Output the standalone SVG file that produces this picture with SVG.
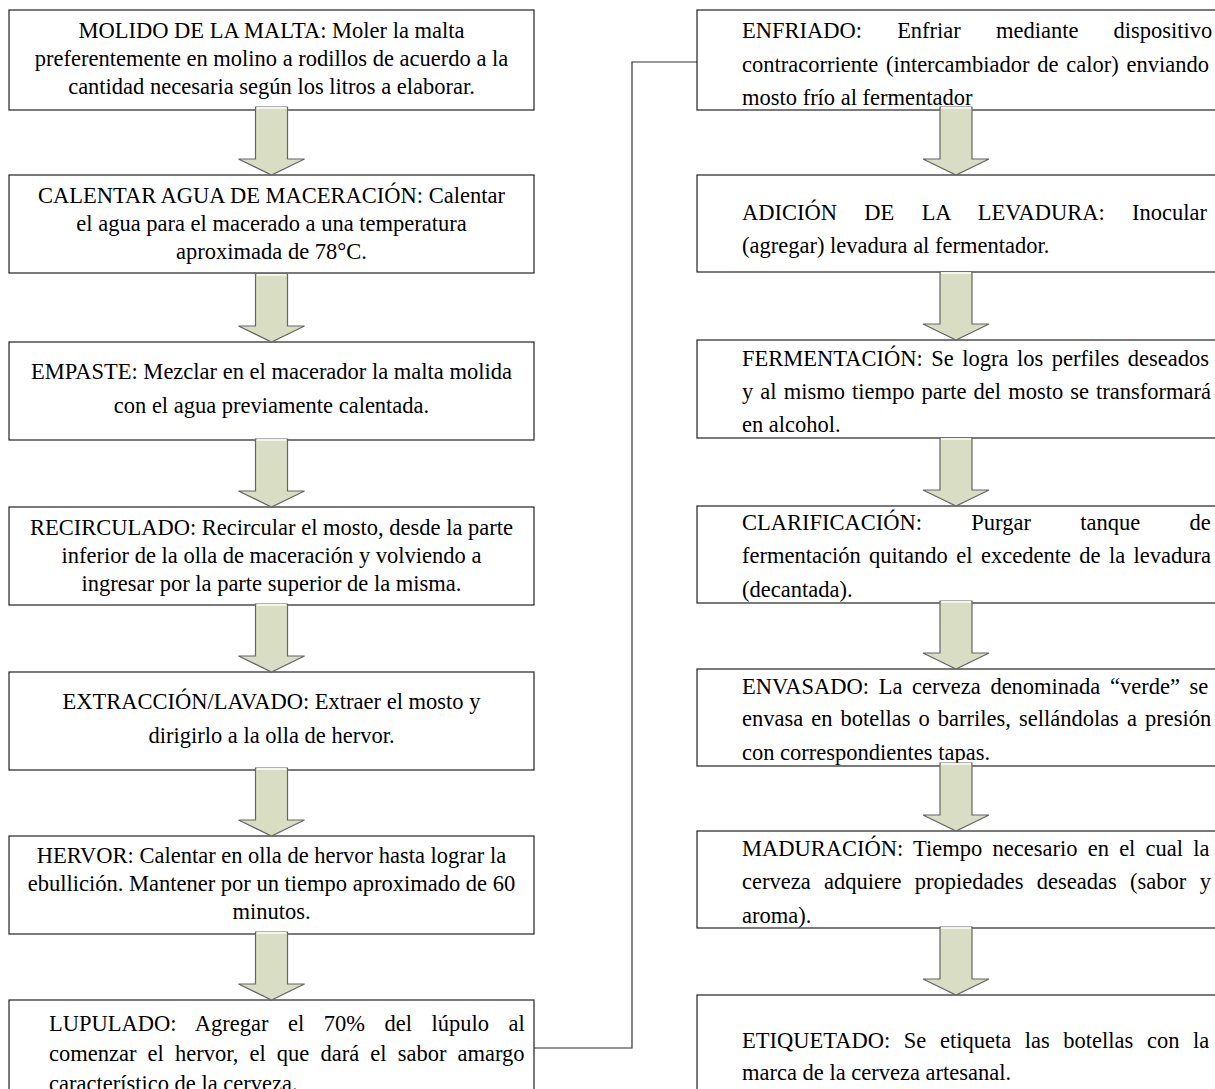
<svg xmlns="http://www.w3.org/2000/svg" width="1215" height="1089" viewBox="0 0 1215 1089">
<defs>
<style>
.box{fill:#fff;stroke:#222;stroke-width:1.2}
.t{font-family:"Liberation Serif","Times New Roman",serif;font-size:22.5px;fill:#000}
.c{text-anchor:middle}
.arr{fill:#d9ddc4;stroke:#666;stroke-width:1.2}
.hl{stroke:#f3f5e8;stroke-width:2}
.conn{fill:none;stroke:#333;stroke-width:1.2}
</style>
<g id="arrowShape">
<path class="arr" d="M-16,0 L16,0 L16,52 L33,52 L0,68 L-33,52 L-16,52 Z"/>
<line class="hl" x1="-15" y1="1" x2="15" y2="1"/>
</g>
</defs>
<rect width="1215" height="1089" fill="#fff"/>

<g id="connectors">
<polyline class="conn" points="534,1048 632,1048 632,62 697,62"/>
</g>

<g id="molido">
<rect class="box" x="9" y="10" width="525" height="100"/>
<text class="t c" x="271.5" y="38">MOLIDO DE LA MALTA: Moler la malta</text>
<text class="t c" x="271.5" y="66">preferentemente en molino a rodillos de acuerdo a la</text>
<text class="t c" x="271.5" y="94">cantidad necesaria según los litros a elaborar.</text>
</g>
<g id="calentar">
<rect class="box" x="9" y="175" width="525" height="98"/>
<text class="t c" x="271.5" y="203">CALENTAR AGUA DE MACERACIÓN: Calentar</text>
<text class="t c" x="271.5" y="231">el agua para el macerado a una temperatura</text>
<text class="t c" x="271.5" y="259">aproximada de 78°C.</text>
</g>
<g id="empaste">
<rect class="box" x="9" y="342" width="525" height="98"/>
<text class="t c" x="271.5" y="379">EMPASTE: Mezclar en el macerador la malta molida</text>
<text class="t c" x="271.5" y="413">con el agua previamente calentada.</text>
</g>
<g id="recirculado">
<rect class="box" x="9" y="507" width="525" height="98"/>
<text class="t c" x="271.5" y="535">RECIRCULADO: Recircular el mosto, desde la parte</text>
<text class="t c" x="271.5" y="563">inferior de la olla de maceración y volviendo a</text>
<text class="t c" x="271.5" y="591">ingresar por la parte superior de la misma.</text>
</g>
<g id="extraccion">
<rect class="box" x="9" y="672" width="525" height="98"/>
<text class="t c" x="271.5" y="709">EXTRACCIÓN/LAVADO: Extraer el mosto y</text>
<text class="t c" x="271.5" y="743">dirigirlo a la olla de hervor.</text>
</g>
<g id="hervor">
<rect class="box" x="9" y="836" width="525" height="98"/>
<text class="t c" x="271.5" y="863">HERVOR: Calentar en olla de hervor hasta lograr la</text>
<text class="t c" x="271.5" y="891">ebullición. Mantener por un tiempo aproximado de 60</text>
<text class="t c" x="271.5" y="919">minutos.</text>
</g>
<g id="lupulado">
<rect class="box" x="9" y="1000" width="525" height="110"/>
<text class="t" x="49" y="1031" style="word-spacing:13.9px">LUPULADO: Agregar el 70% del lúpulo al</text>
<text class="t" x="49" y="1061" style="word-spacing:5.5px">comenzar el hervor, el que dará el sabor amargo</text>
<text class="t" x="49" y="1091">característico de la cerveza.</text>
</g>

<g id="enfriado">
<rect class="box" x="697" y="10" width="520" height="100"/>
<text class="t" x="742" y="38" style="word-spacing:29.5px">ENFRIADO: Enfriar mediante dispositivo</text>
<text class="t" x="742" y="72" style="word-spacing:2.1px">contracorriente (intercambiador de calor) enviando</text>
<text class="t" x="742" y="105">mosto frío al fermentador</text>
</g>
<g id="adicion">
<rect class="box" x="697" y="175" width="520" height="97"/>
<text class="t" x="742" y="220" style="word-spacing:21.7px">ADICIÓN DE LA LEVADURA: Inocular</text>
<text class="t" x="742" y="253">(agregar) levadura al fermentador.</text>
</g>
<g id="fermentacion">
<rect class="box" x="697" y="340" width="520" height="98"/>
<text class="t" x="742" y="366" style="word-spacing:2.9px">FERMENTACIÓN: Se logra los perfiles deseados</text>
<text class="t" x="742" y="399" style="word-spacing:1.45px">y al mismo tiempo parte del mosto se transformará</text>
<text class="t" x="742" y="432">en alcohol.</text>
</g>
<g id="clarificacion">
<rect class="box" x="697" y="506" width="520" height="97"/>
<text class="t" x="742" y="530" style="word-spacing:43.7px">CLARIFICACIÓN: Purgar tanque de</text>
<text class="t" x="742" y="563" style="word-spacing:2.8px">fermentación quitando el excedente de la levadura</text>
<text class="t" x="742" y="597">(decantada).</text>
</g>
<g id="envasado">
<rect class="box" x="697" y="669" width="520" height="97"/>
<text class="t" x="742" y="694" style="word-spacing:4px">ENVASADO: La cerveza denominada “verde” se</text>
<text class="t" x="742" y="726" style="word-spacing:2.4px">envasa en botellas o barriles, sellándolas a presión</text>
<text class="t" x="742" y="760">con correspondientes tapas.</text>
</g>
<g id="maduracion">
<rect class="box" x="697" y="831" width="520" height="97"/>
<text class="t" x="742" y="856" style="word-spacing:4.6px">MADURACIÓN: Tiempo necesario en el cual la</text>
<text class="t" x="742" y="889" style="word-spacing:7.7px">cerveza adquiere propiedades deseadas (sabor y</text>
<text class="t" x="742" y="923">aroma).</text>
</g>
<g id="etiquetado">
<rect class="box" x="697" y="995" width="520" height="115"/>
<text class="t" x="742" y="1048" style="word-spacing:8px">ETIQUETADO: Se etiqueta las botellas con la</text>
<text class="t" x="742" y="1080">marca de la cerveza artesanal.</text>
</g>

<g id="arrows">
<use href="#arrowShape" x="271.5" y="107"/>
<use href="#arrowShape" x="271.5" y="274"/>
<use href="#arrowShape" x="271.5" y="439"/>
<use href="#arrowShape" x="271.5" y="604"/>
<use href="#arrowShape" x="271.5" y="768"/>
<use href="#arrowShape" x="271.5" y="932"/>
<use href="#arrowShape" x="956" y="107"/>
<use href="#arrowShape" x="956" y="272"/>
<use href="#arrowShape" x="956" y="438"/>
<use href="#arrowShape" x="956" y="601"/>
<use href="#arrowShape" x="956" y="763"/>
<use href="#arrowShape" x="956" y="927"/>
</g>
</svg>
